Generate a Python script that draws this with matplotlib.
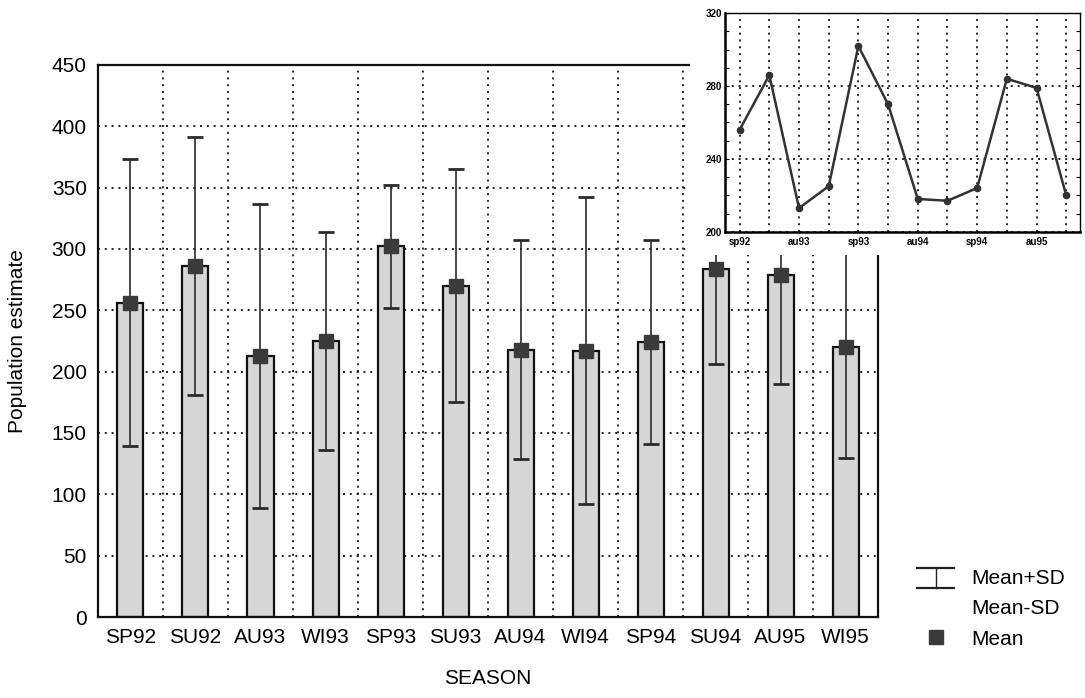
import numpy as np
import matplotlib.pyplot as plt
from matplotlib.patches import Rectangle
from matplotlib.lines import Line2D
from matplotlib.legend_handler import HandlerBase

plt.rcParams['font.family'] = ['Liberation Sans', 'DejaVu Sans']

seasons = ['SP92', 'SU92', 'AU93', 'WI93', 'SP93', 'SU93',
           'AU94', 'WI94', 'SP94', 'SU94', 'AU95', 'WI95']
mean_est = [256, 286, 213, 225, 302, 270, 218, 217, 224, 284, 279, 220]
sd_est = [117, 105, 124, 89, 50, 95, 89, 125, 83, 78, 89, 90]

inset_labels = ['sp92', '', 'au93', '', 'sp93', '', 'au94', '', 'sp94', '', 'au95', '']

grid_style = dict(color='#222222', linestyle=(0, (1, 2.5)), linewidth=1.4)


class SDHandler(HandlerBase):
    # little "I" symbol: two caps joined by a vertical stroke
    def create_artists(self, legend, orig_handle, xdescent, ydescent,
                       width, height, fontsize, trans):
        x0, x1 = -xdescent, -xdescent + width
        y0, y1 = -ydescent - 2, -ydescent + height
        xm = (x0 + x1) / 2
        kw = dict(color='#222222', linewidth=1.6, transform=trans)
        return [Line2D([x0, x1], [y1, y1], **kw),
                Line2D([x0, x1], [y0, y0], **kw),
                Line2D([xm, xm], [y0, y1], color='#222222', linewidth=1.0,
                       transform=trans)]


fig = plt.figure(figsize=(10.85, 6.98), dpi=100)
ax = fig.add_axes([0.0903, 0.116, 0.719, 0.791])

x = np.arange(len(seasons))
ax.bar(x, mean_est, width=0.4, color='#d6d6d6', edgecolor='#111111',
       linewidth=1.6, zorder=2)
ax.errorbar(x, mean_est, yerr=sd_est, fmt='none', ecolor='#2a2a2a',
            elinewidth=1.2, capsize=5.5, capthick=2, zorder=3)
ax.plot(x, mean_est, linestyle='none', marker='s', markersize=9.5,
        color='#3a3a3a', zorder=4)

ax.set_xlim(-0.5, 11.5)
ax.set_ylim(0, 450)
ax.set_yticks(np.arange(0, 451, 50))
ax.set_xticks(x)
ax.set_xticklabels(seasons)
ax.set_xticks(x[:-1] + 0.5, minor=True)
ax.tick_params(axis='both', which='both', length=0, labelsize=15, pad=8)
ax.yaxis.grid(True, **grid_style)
ax.xaxis.grid(True, which='minor', **grid_style)
ax.set_axisbelow(True)
for s in ax.spines.values():
    s.set_linewidth(1.6)
    s.set_color('#111111')
ax.set_xlabel('SEASON', fontsize=15, labelpad=16)
ax.set_ylabel('Population estimate', fontsize=15, labelpad=18)

# blank panel behind the small overview plot
fig.add_artist(Rectangle((0.636, 0.635), 0.37, 0.37, transform=fig.transFigure,
                         facecolor='white', edgecolor='none', zorder=1))

ins = fig.add_axes([0.668, 0.668, 0.327, 0.313])
ins.set_zorder(2)
ins.plot(x, mean_est, color='#333333', linewidth=1.8, marker='o',
         markersize=4.5, zorder=3)
ins.set_xlim(-0.5, 11.45)
ins.set_ylim(200, 320)
ins.set_yticks([200, 240, 280, 320])
ins.set_yticks(np.arange(200, 321, 10), minor=True)
ins.set_xticks(x)
ins.set_xticklabels(inset_labels)
ins.xaxis.grid(True, **grid_style)
ins.yaxis.grid(True, **grid_style)
ins.tick_params(axis='x', length=0, labelsize=7, pad=4)
ins.tick_params(axis='y', which='both', direction='in', right=True,
                labelsize=7, length=3, width=0.8, pad=2)
for lbl in ins.get_xticklabels() + ins.get_yticklabels():
    lbl.set_fontweight('bold')
ins.spines['left'].set_linewidth(1.8)
ins.spines['bottom'].set_linewidth(1.8)
ins.spines['top'].set_linewidth(1.0)
ins.spines['right'].set_linewidth(1.0)

sd_handle = Line2D([], [])
blank = Line2D([], [], linestyle='none')
mean_handle = Line2D([], [], linestyle='none', marker='s', markersize=9.5,
                     color='#3a3a3a')
fig.legend([sd_handle, blank, mean_handle], ['Mean+SD', 'Mean-SD', 'Mean'],
           handler_map={sd_handle: SDHandler()},
           loc='upper left', bbox_to_anchor=(0.845, 0.186),
           bbox_transform=fig.transFigure, frameon=False, fontsize=15,
           handlelength=1.8, handleheight=0.9, handletextpad=0.8,
           borderpad=0, borderaxespad=0, labelspacing=0.5)

fig.savefig('out.png', dpi=100)
